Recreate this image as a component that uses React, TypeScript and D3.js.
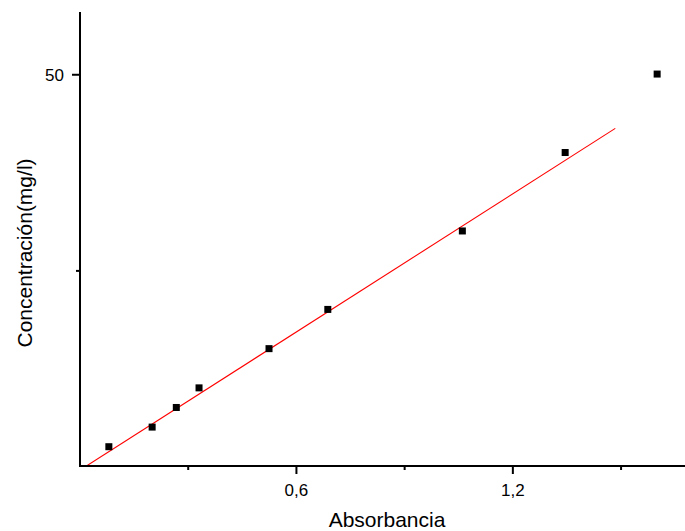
import React, { useEffect, useRef } from 'react';
import * as d3 from 'd3';

// calibration points
const absorbancia = [0.08, 0.2, 0.267, 0.33, 0.524, 0.687, 1.06, 1.345, 1.6];
const concentracion = [2.5, 5, 7.5, 10, 15, 20, 30, 40, 50];

// linear fit (red line)
const fitSlope = 29.35;
const fitIntercept = -0.39;
const fitRange = [0, 1.484];

const xMajorTicks = [0.6, 1.2];
const xMinorTicks = [0.3, 0.9, 1.5];
const yMajorTicks = [50];
const yMinorTicks = [25];

const WIDTH = 685;
const HEIGHT = 531;
const FONT = '"Liberation Sans", Arial, sans-serif';

export default function App() {
  const ref = useRef<SVGSVGElement>(null);

  useEffect(() => {
    const svg = d3.select(ref.current);
    svg.selectAll('*').remove();

    const x = d3.scaleLinear().domain([0, 1.68]).range([80, 686]);
    const y = d3.scaleLinear().domain([0.13, 58]).range([466, 12]);

    const fmt = d3.formatLocale({ decimal: ',', thousands: '.', grouping: [3], currency: ['', ''] }).format('.1f');

    svg.append('clipPath')
      .attr('id', 'plot-clip')
      .append('rect')
      .attr('x', x(0))
      .attr('y', y.range()[1])
      .attr('width', WIDTH - x(0))
      .attr('height', y.range()[0] - y.range()[1]);

    // fit line
    const line = d3.line<number>()
      .x(d => x(d))
      .y(d => y(fitSlope * d + fitIntercept));
    svg.append('path')
      .datum(fitRange)
      .attr('d', line)
      .attr('clip-path', 'url(#plot-clip)')
      .attr('fill', 'none')
      .attr('stroke', '#ff0000')
      .attr('stroke-width', 1.1);

    // points
    const size = 7;
    svg.selectAll('.pt')
      .data(absorbancia)
      .enter()
      .append('rect')
      .attr('class', 'pt')
      .attr('x', d => x(d) - size / 2)
      .attr('y', (d, i) => y(concentracion[i]) - size / 2 - 0.7)
      .attr('width', size)
      .attr('height', size)
      .attr('fill', '#000');

    const axis = svg.append('g').attr('stroke', '#000').attr('stroke-width', 2);
    // axis lines
    axis.append('line')
      .attr('x1', x(0)).attr('x2', x(0))
      .attr('y1', y.range()[1]).attr('y2', y.range()[0] + 1);
    axis.append('line')
      .attr('x1', x(0) - 1).attr('x2', WIDTH)
      .attr('y1', y.range()[0]).attr('y2', y.range()[0]);

    // x ticks
    axis.selectAll('.xmaj').data(xMajorTicks).enter().append('line')
      .attr('x1', d => x(d)).attr('x2', d => x(d))
      .attr('y1', y.range()[0]).attr('y2', y.range()[0] + 8);
    axis.selectAll('.xmin').data(xMinorTicks).enter().append('line')
      .attr('x1', d => x(d)).attr('x2', d => x(d))
      .attr('y1', y.range()[0]).attr('y2', y.range()[0] + 4);

    // y ticks
    axis.selectAll('.ymaj').data(yMajorTicks).enter().append('line')
      .attr('x1', x(0) - 8).attr('x2', x(0))
      .attr('y1', d => y(d)).attr('y2', d => y(d));
    axis.selectAll('.ymin').data(yMinorTicks).enter().append('line')
      .attr('x1', x(0) - 4).attr('x2', x(0))
      .attr('y1', d => y(d)).attr('y2', d => y(d));

    // tick labels
    svg.selectAll('.xlab').data(xMajorTicks).enter().append('text')
      .attr('x', d => x(d))
      .attr('y', 496)
      .attr('text-anchor', 'middle')
      .attr('font-family', FONT)
      .attr('font-size', 17)
      .text(d => fmt(d));

    svg.selectAll('.ylab').data(yMajorTicks).enter().append('text')
      .attr('x', 64)
      .attr('y', d => y(d) + 6)
      .attr('text-anchor', 'end')
      .attr('font-family', FONT)
      .attr('font-size', 17)
      .text(d => String(d));

    // axis titles
    svg.append('text')
      .attr('x', 387)
      .attr('y', 527)
      .attr('text-anchor', 'middle')
      .attr('font-family', FONT)
      .attr('font-size', 21)
      .text('Absorbancia');

    svg.append('text')
      .attr('transform', 'translate(32,253) rotate(-90)')
      .attr('text-anchor', 'middle')
      .attr('font-family', FONT)
      .attr('font-size', 21)
      .text('Concentración(mg/l)');
  }, []);

  return (
    <svg
      ref={ref}
      width={WIDTH}
      height={HEIGHT}
      style={{ position: 'absolute', left: 0, top: 0, background: '#fff' }}
    />
  );
}
